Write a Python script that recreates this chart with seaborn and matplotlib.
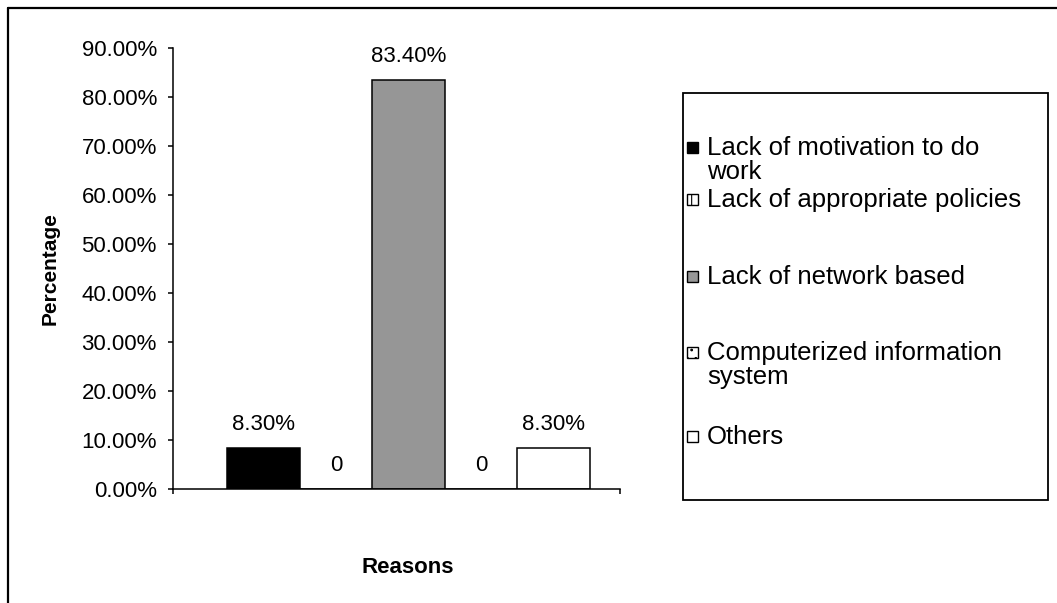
import matplotlib
matplotlib.use("Agg")
import matplotlib.pyplot as plt
from matplotlib.patches import Rectangle
from matplotlib.lines import Line2D
import seaborn as sns

# Survey results: reasons given, share of respondents (%)
reasons = [
    "Lack of motivation to do work",
    "Lack of appropriate policies",
    "Lack of network based",
    "Computerized information system",
    "Others",
]
percentages = [8.3, 0.0, 83.4, 0.0, 8.3]
y_ticks = [0, 10, 20, 30, 40, 50, 60, 70, 80, 90]

bar_colors = ["#000000", "#ffffff", "#969696", "#ffffff", "#ffffff"]
bar_hatches = [None, "+", None, "..", None]

sns.set_theme(style="white")
plt.rcParams["font.family"] = ["Liberation Sans", "DejaVu Sans"]
plt.rcParams["hatch.linewidth"] = 0.8

W, H = 1057, 603
fig = plt.figure(figsize=(W / 100, H / 100), dpi=100)
fig.patch.set_facecolor("white")


def fx(px):
    return px / W


def fy(py):
    return 1 - py / H


# outer chart frame (top and left edges visible)
fig.add_artist(Line2D([fx(8), fx(8)], [fy(8), -0.05], color="black", lw=1.6,
                      transform=fig.transFigure))
fig.add_artist(Line2D([fx(8), 1.05], [fy(8), fy(8)], color="black", lw=1.6,
                      transform=fig.transFigure))

ax = fig.add_axes([fx(173), fy(489), fx(620) - fx(173), fy(48) - fy(489)])

sns.barplot(x=reasons, y=percentages, hue=reasons, palette=bar_colors,
            width=1.0, dodge=False, legend=False, edgecolor="black",
            linewidth=1.1, saturation=1, ax=ax)
for patch, hatch in zip(ax.patches, bar_hatches):
    if hatch:
        patch.set_hatch(hatch)

x_left, x_right = -1.248, 4.917
ax.set_xlim(x_left, x_right)
ax.set_ylim(0, 90)
ax.set_yticks(y_ticks)
ax.set_yticklabels([f"{t:.2f}%" for t in y_ticks], fontsize=16)
ax.set_xticks([x_left, x_right])
ax.set_xticklabels(["", ""])
ax.tick_params(axis="both", direction="out", length=3.6, width=1.1,
               color="black", left=True, bottom=True, pad=8)
ax.tick_params(axis="y", labelcolor="black")
for side in ("top", "right"):
    ax.spines[side].set_visible(False)
for side in ("left", "bottom"):
    ax.spines[side].set_color("black")
    ax.spines[side].set_linewidth(1.1)
ax.set_facecolor("white")

# value labels above each bar
for i, v in enumerate(percentages):
    label = "0" if v == 0 else f"{v:.2f}%"
    ax.annotate(label, xy=(i, v), xytext=(0, 17), textcoords="offset points",
                ha="center", va="center", fontsize=16, color="black")

ax.set_ylabel("Percentage", fontsize=15, fontweight="bold", color="black")
ax.yaxis.set_label_coords((60 - 173) / 447, 0.5)
ax.set_xlabel("Reasons", fontsize=16, fontweight="bold", color="black")
ax.xaxis.set_label_coords((408 - 173) / 447, (489 - 557) / 441)

# legend panel
fig.add_artist(Rectangle((fx(683), fy(500)), fx(1048) - fx(683),
                         fy(93) - fy(500), transform=fig.transFigure,
                         facecolor="white", edgecolor="black", lw=1.3))

renderer = fig.canvas.get_renderer()
legend_fs = 18.5
max_text_px = 322
line_step = 24


def wrap_to_width(text):
    lines, current = [], ""
    for word in text.split():
        trial = word if not current else current + " " + word
        probe = fig.text(0, 0, trial, fontsize=legend_fs)
        width = probe.get_window_extent(renderer).width
        probe.remove()
        if width > max_text_px and current:
            lines.append(current)
            current = word
        else:
            current = trial
    lines.append(current)
    return lines


entry_y = [148, 200, 277, 353, 437]
for name, color, hatch, py in zip(reasons, bar_colors, bar_hatches, entry_y):
    fig.add_artist(Rectangle((fx(687), fy(py + 5)), fx(11), 11 / H,
                             transform=fig.transFigure, facecolor=color,
                             edgecolor="black", lw=1.0, hatch=hatch))
    for k, line in enumerate(wrap_to_width(name)):
        fig.text(fx(707), fy(py + k * line_step), line, fontsize=legend_fs,
                 ha="left", va="center", color="black")

fig.savefig("out.png", dpi=100, facecolor="white")
